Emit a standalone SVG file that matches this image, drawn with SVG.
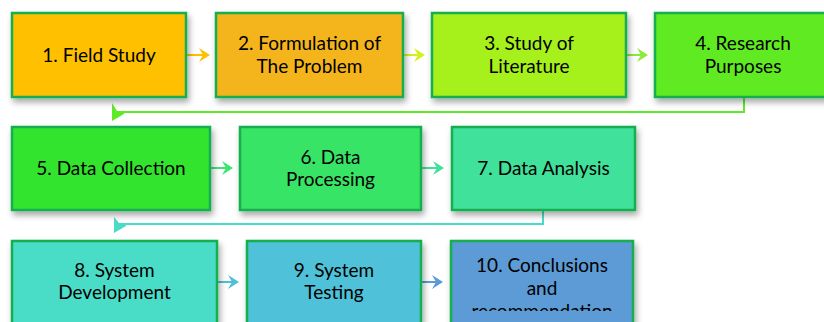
<svg xmlns="http://www.w3.org/2000/svg" width="824" height="322" viewBox="0 0 824 322">
<defs>
<filter id="sh" x="-10%" y="-10%" width="130%" height="140%">
<feDropShadow dx="2" dy="4" stdDeviation="3" flood-color="#000" flood-opacity="0.35"/>
</filter>
<clipPath id="c10"><rect x="451" y="241" width="182" height="70"/></clipPath>
<style>
.box{stroke:#12AE50;stroke-width:2.5;filter:url(#sh)}
.t{font-family:Lato,"Open Sans","Liberation Sans",sans-serif;font-size:19px;fill:#000;text-anchor:middle}
.ln{fill:none;stroke-width:2}
</style>
</defs>
<rect width="824" height="322" fill="#fff"/>
<g id="connectors">
<line class="ln" x1="186" y1="55" x2="204" y2="55" stroke="#FFC000"/>
<polygon points="199,48 210,55 199,62 203,55" fill="#FFC000"/>
<line class="ln" x1="403" y1="55" x2="419" y2="55" stroke="#D6F01E"/>
<polygon points="414,48 425,55 414,62 418,55" fill="#D6F01E"/>
<line class="ln" x1="626" y1="55" x2="642" y2="55" stroke="#8CEB3A"/>
<polygon points="637,48 648,55 637,62 641,55" fill="#8CEB3A"/>
<polyline class="ln" points="744,97 744,112 120,112" stroke="#5FEA28"/>
<polygon points="112,103 117,111 124,111 124,114 112,121" fill="#5FEA28"/>
<line class="ln" x1="210" y1="168" x2="227" y2="168" stroke="#3DE573"/>
<polygon points="222,161 233,168 222,175 226,168" fill="#3DE573"/>
<line class="ln" x1="421" y1="168" x2="438" y2="168" stroke="#40E09A"/>
<polygon points="433,161 444,168 433,175 437,168" fill="#40E09A"/>
<polyline class="ln" points="543,210 543,224 122,224" stroke="#48DCC7"/>
<polygon points="114,217 119,223 126,223 126,226 114,233" fill="#48DCC7"/>
<line class="ln" x1="217" y1="282" x2="233" y2="282" stroke="#4EC0D8"/>
<polygon points="228,275 239,282 228,289 232,282" fill="#4EC0D8"/>
<line class="ln" x1="421" y1="282" x2="437" y2="282" stroke="#5B9BD5"/>
<polygon points="432,275 443,282 432,289 436,282" fill="#5B9BD5"/>
</g>
<g id="n1"><rect class="box" x="12" y="13" width="174" height="84" fill="#FFC000"/>
<text class="t" x="99" y="62">1. Field Study</text></g>
<g id="n2"><rect class="box" x="216" y="13" width="187" height="84" fill="#F4B51A"/>
<text class="t" x="309.5" y="50">2. Formulation of</text><text class="t" x="309.5" y="73">The Problem</text></g>
<g id="n3"><rect class="box" x="432" y="13" width="194" height="84" fill="#A6F01C"/>
<text class="t" x="529" y="50">3. Study of</text><text class="t" x="529" y="73">Literature</text></g>
<g id="n4"><rect class="box" x="655" y="13" width="176" height="84" fill="#60EA24"/>
<text class="t" x="743" y="50">4. Research</text><text class="t" x="743" y="73">Purposes</text></g>
<g id="n5"><rect class="box" x="12" y="127" width="198" height="83" fill="#33E42F"/>
<text class="t" x="111" y="175">5. Data Collection</text></g>
<g id="n6"><rect class="box" x="240" y="127" width="181" height="83" fill="#39E466"/>
<text class="t" x="330.5" y="164">6. Data</text><text class="t" x="330.5" y="186">Processing</text></g>
<g id="n7"><rect class="box" x="452" y="127" width="183" height="83" fill="#41E19A"/>
<text class="t" x="543.5" y="175">7. Data Analysis</text></g>
<g id="n8"><rect class="box" x="12" y="241" width="205" height="95" fill="#49DDC8"/>
<text class="t" x="114.5" y="277">8. System</text><text class="t" x="114.5" y="299">Development</text></g>
<g id="n9"><rect class="box" x="247" y="241" width="174" height="95" fill="#4FC1D8"/>
<text class="t" x="334" y="277">9. System</text><text class="t" x="334" y="299">Testing</text></g>
<g id="n10"><rect class="box" x="451" y="241" width="182" height="95" fill="#5B9BD5"/>
<g clip-path="url(#c10)"><text class="t" x="542" y="272">10. Conclusions</text><text class="t" x="542" y="295">and</text><text class="t" x="542" y="318">recommendation</text></g></g>
</svg>
